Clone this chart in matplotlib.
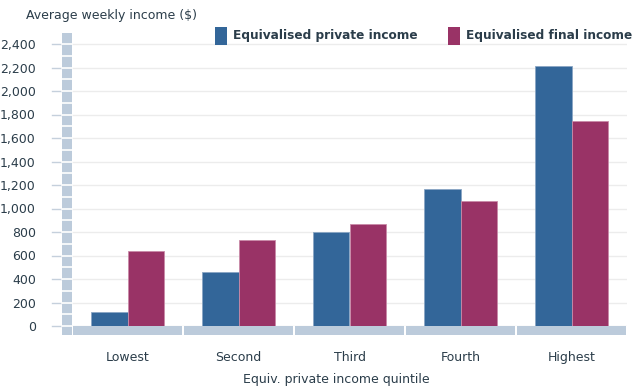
import numpy as np
import matplotlib
matplotlib.use("Agg")
import matplotlib.pyplot as plt
from matplotlib.patches import Rectangle

# data
quintiles = ["Lowest", "Second", "Third", "Fourth", "Highest"]
private_income = [120, 460, 800, 1170, 2210]
final_income = [640, 730, 870, 1060, 1745]
yticks = [0, 200, 400, 600, 800, 1000, 1200, 1400, 1600, 1800, 2000, 2200, 2400]

blue = "#336699"
magenta = "#993366"
strip = "#bccbdb"
text_col = "#2b3d4a"

W, H = 632, 387
fig = plt.figure(figsize=(W / 100, H / 100), dpi=100)

# axes in pixel terms: x 72..627, y(0)=326, top=33
left, right, y0, top = 72, 627, 326, 33
ax = fig.add_axes([left / W, (H - y0) / H, (right - left) / W, (y0 - top) / H])
ymax = (y0 - top) / 23.5 * 200
ax.set_ylim(0, ymax)
ax.set_xlim(-0.5, 4.5)

x = np.arange(len(quintiles))
bw = 0.325
ax.bar(x - bw / 2, private_income, bw, color=blue, edgecolor="#8aa6c4", linewidth=0.6, zorder=3)
ax.bar(x + bw / 2, final_income, bw, color=magenta, edgecolor="#c98aa8", linewidth=0.6, zorder=3)

# gridlines
for t in yticks:
    ax.axhline(t, color="#ececec", linewidth=1, zorder=1)

for s in ax.spines.values():
    s.set_visible(False)
ax.set_xticks(x)
ax.set_xticklabels(quintiles, fontsize=9, color=text_col)
ax.tick_params(axis="x", length=0, pad=18)
ax.set_yticks(yticks)
ax.set_yticklabels([f"{t:,}" for t in yticks], fontsize=9, color=text_col)
ax.tick_params(axis="y", length=0, pad=26)

# horizontal strip, one block per category
units_per_px = ymax / (y0 - top)
for i in range(len(quintiles)):
    ax.add_patch(Rectangle((i - 0.5 + 0.005, -9 * units_per_px), 0.99, 9 * units_per_px,
                           facecolor=strip, edgecolor="none", clip_on=False, zorder=2))

# vertical strip with white breaks every 100
ax.add_patch(Rectangle((-10 / (right - left), -9 / (y0 - top)), 10 / (right - left), 1 + 9 / (y0 - top),
                       transform=ax.transAxes, facecolor=strip, edgecolor="none", clip_on=False, zorder=2))
for v in range(0, 2500, 100):
    ax.plot([-10 / (right - left), 0], [v / ymax, v / ymax], transform=ax.transAxes,
            color="white", linewidth=1.2, clip_on=False, zorder=2.5)
# tick marks left of the strip
for t in yticks:
    ax.plot([-20 / (right - left), -10 / (right - left)], [t / ymax, t / ymax], transform=ax.transAxes,
            color="#c5d0dc", linewidth=1, clip_on=False)

fig.text(26 / W, 1 - 16 / H, "Average weekly income ($)", fontsize=9, color=text_col, va="center", ha="left")
fig.text(336 / W, 1 - 380 / H, "Equiv. private income quintile", fontsize=9, color=text_col, va="center", ha="center")

# legend
fig.patches.append(Rectangle((215 / W, 1 - 45 / H), 12 / W, 18 / H, transform=fig.transFigure,
                             facecolor=blue, edgecolor="none"))
fig.text(233 / W, 1 - 36 / H, "Equivalised private income", fontsize=8.7, fontweight="bold",
         color=text_col, va="center", ha="left")
fig.patches.append(Rectangle((448 / W, 1 - 45 / H), 12 / W, 18 / H, transform=fig.transFigure,
                             facecolor=magenta, edgecolor="none"))
fig.text(466 / W, 1 - 36 / H, "Equivalised final income", fontsize=8.7, fontweight="bold",
         color=text_col, va="center", ha="left")

fig.savefig("out.png", dpi=100)
